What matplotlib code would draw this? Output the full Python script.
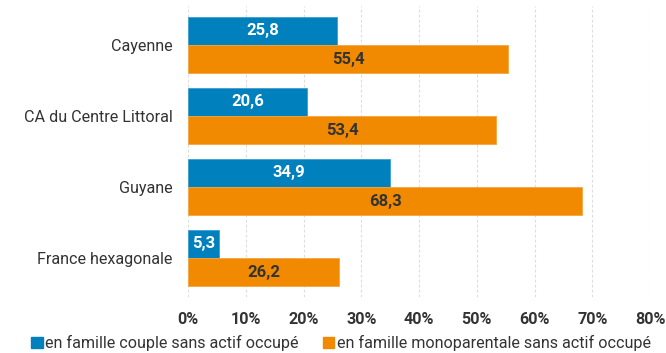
import matplotlib
matplotlib.use("Agg")
import matplotlib.pyplot as plt
from matplotlib.patches import Patch
import numpy as np

categories = ["Cayenne", "CA du Centre Littoral", "Guyane", "France hexagonale"]
couple = [25.8, 20.6, 34.9, 5.3]
mono = [55.4, 53.4, 68.3, 26.2]
series_names = ["en famille couple sans actif occupé",
                "en famille monoparentale sans actif occupé"]
xticks = [0, 10, 20, 30, 40, 50, 60, 70, 80]

BLUE = "#0081bd"
ORANGE = "#f18a00"
DARK = "#333333"

plt.rcParams["font.family"] = ["Roboto", "DejaVu Sans"]

fig = plt.figure(figsize=(6.66, 3.53), dpi=100)
ax = fig.add_axes([188 / 666, 1 - 297 / 353, (650 - 188) / 666, (297 - 6) / 353])

y = np.arange(len(categories))
h = 0.4
b1 = ax.barh(y - h / 2, couple, height=h, color=BLUE, edgecolor="#3a9fd0", linewidth=0.6, zorder=2)
b2 = ax.barh(y + h / 2, mono, height=h, color=ORANGE, edgecolor="#f5a640", linewidth=0.6, zorder=2)

for rect, v in zip(b1, couple):
    ax.text(rect.get_width() / 2, rect.get_y() + rect.get_height() / 2,
            f"{v:.1f}".replace(".", ","), ha="center", va="center",
            color="white", fontsize=12, fontweight="bold", zorder=3)
for rect, v in zip(b2, mono):
    ax.text(rect.get_width() / 2, rect.get_y() + rect.get_height() / 2,
            f"{v:.1f}".replace(".", ","), ha="center", va="center",
            color=DARK, fontsize=12, fontweight="bold", zorder=3)

ax.set_xlim(0, 80)
ax.set_ylim(len(categories) - 0.45, -0.55)
ax.set_yticks(y)
ax.set_yticklabels(categories, fontsize=11.6, color=DARK)
ax.set_xticks(xticks)
ax.set_xticklabels([f"{t}%" for t in xticks], fontsize=11.6, color=DARK, fontweight="bold")
ax.tick_params(length=0)
ax.tick_params(axis="y", pad=11)
ax.tick_params(axis="x", pad=11)
ax.grid(axis="x", color="#dcdcdc", linestyle=(0, (2.5, 2)), linewidth=0.8, zorder=0)
for s in ax.spines.values():
    s.set_visible(False)

handles = [Patch(color=BLUE), Patch(color=ORANGE)]
fig.legend(handles, series_names, loc="lower center", ncol=2, frameon=False,
           fontsize=11.6, handlelength=0.7, handleheight=0.7, handletextpad=0.15,
           columnspacing=1.5, bbox_to_anchor=(0.512, -0.035), labelcolor=DARK)

fig.savefig("out.png", dpi=100)
